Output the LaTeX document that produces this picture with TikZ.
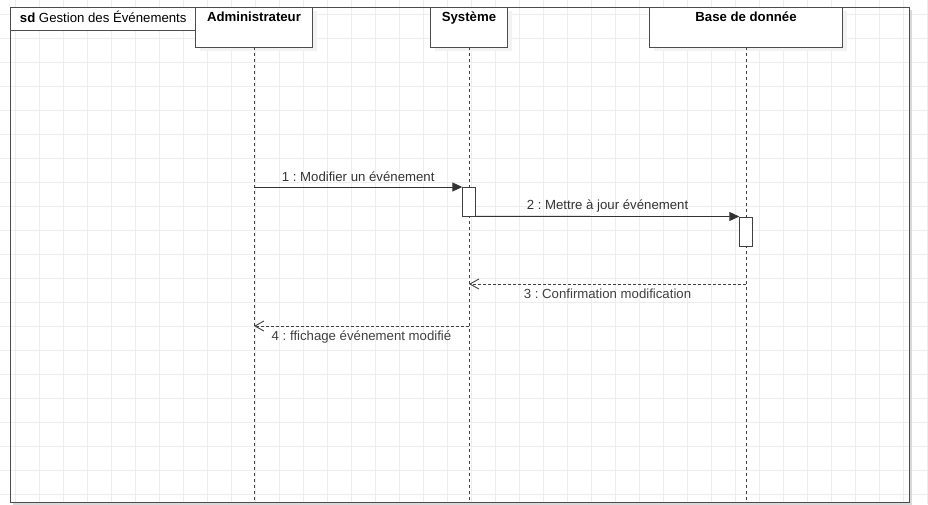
\documentclass[tikz,border=0pt]{standalone}
\usepackage{fontspec}
\setmainfont{Liberation Sans}
\usetikzlibrary{arrows.meta,shadows}
\newcommand\SDgrid[2]{
  \def\W{#1} \def\H{#2}
  \foreach \i in {15,39,...,\W}
  {
    \draw[gray!14,line width=0.8pt] (\i,0) -- (\i,\H);
  }
  \foreach \j in {14,38,...,\H}
  {
    \draw[gray!14,line width=0.8pt] (0,\j) -- (\W,\j);
  }
}
\tikzset{
  uml/.style={font=\fontsize{13.2}{15}\selectfont},
  head/.style={uml, draw=black!70, fill=white, anchor=north, inner ysep=0pt,
    text height=14pt, text depth=26pt, font=\fontsize{13.2}{15}\selectfont\bfseries,
    drop shadow={shadow xshift=4pt, shadow yshift=-4pt, fill=gray!10, opacity=1}},
  act/.style={draw=black!75, fill=white, minimum width=13pt, minimum height=29pt, inner sep=0pt},
  life/.style={black!75, dash pattern=on 3pt off 3pt, line width=0.9pt},
  msg/.style={black!80, line width=0.9pt, -{Triangle[length=10pt,width=9pt]}},
  reply/.style={black!75, dash pattern=on 3pt off 2pt, line width=0.9pt, -{Straight Barb[length=9pt,width=10pt]}}
}
\begin{document}
\frenchspacing
\begin{tikzpicture}[x=1pt, y=-1pt]
\useasboundingbox (0,0) rectangle (928,504);
\fill[white] (0,0) rectangle (928,504);
\SDgrid{928}{504}
% frame
\draw[gray!30, line width=2pt] (911,10) -- (911,504) -- (13,504);
\draw[black!70, line width=1pt] (10,7) rectangle (909,502);
\node[uml, draw=black!70, fill=white, anchor=north west, inner ysep=0pt, inner xsep=5pt,
  minimum width=186pt, text height=15pt, text depth=8pt] (sdtab) at (10,7)
  {\textbf{sd} Gestion des Événements};

% lifelines
\node[head, minimum width=117pt] (adm) at (254,7) {Administrateur};
\node[head, minimum width=77pt] (sys) at (469,7) {Système};
\node[head, minimum width=193pt] (bdd) at (746,7) {Base de donnée};
\coordinate (admend) at (254,502);
\coordinate (sysend) at (469,502);
\coordinate (bddend) at (746,502);
\draw[life] (adm) -- (admend);
\draw[life] (sys) -- (sysend);
\draw[life] (bdd) -- (bddend);

% activations
\node[act, anchor=north] (act1) at (469,187) {};
\node[act, anchor=north] (act2) at (746,216.5) {};

% messages
\draw[msg] (adm.south |- act1.north) --
  node[uml, above, inner sep=5pt]{1 : Modifier un événement} (act1.north west);
\draw[msg] (act1.south east) --
  node[uml, above, inner sep=4pt]{2 : Mettre à jour événement} (act2.north west);
\coordinate (bdd3) at (746,284);
\coordinate (sys3) at (469,284);
\draw[reply] (bdd3) --
  node[uml, below, inner sep=4pt]{3 : Confirmation modification} (sys3);
\coordinate (sys4) at (469,326);
\coordinate (adm4) at (254,326);
\draw[reply] (sys4) --
  node[uml, below, inner sep=4pt]{4 : ffichage événement modifié} (adm4);
\end{tikzpicture}
\end{document}
